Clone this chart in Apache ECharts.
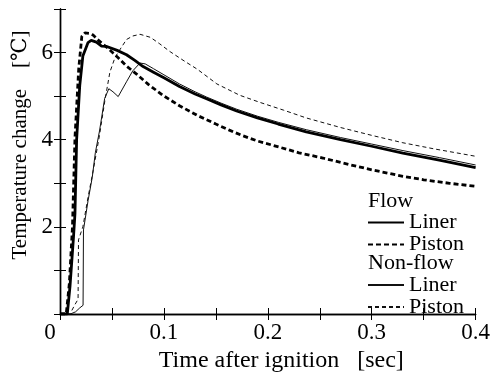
<!DOCTYPE html>
<html>
<head>
<meta charset="utf-8">
<script src="https://cdn.jsdelivr.net/npm/echarts@6/dist/echarts.min.js"></script>
<style>
  html, body { margin: 0; padding: 0; background: #fff; }
  #chart { width: 493px; height: 378px; }
</style>
</head>
<body>
<div id="chart"></div>
<script>
// values
const flowLinerTime = [0, 0.007, 0.0096, 0.013, 0.0144, 0.016, 0.019, 0.022, 0.027, 0.03, 0.035, 0.04, 0.045, 0.055, 0.064, 0.072, 0.08, 0.09, 0.1, 0.115, 0.13, 0.141, 0.155, 0.17, 0.19, 0.21, 0.237, 0.27, 0.3, 0.33, 0.365, 0.4]
const flowLinerTemp = [0, 0, 0.63, 1.77, 2.3, 4.0, 5.24, 5.92, 6.23, 6.28, 6.24, 6.15, 6.14, 6.05, 5.95, 5.82, 5.68, 5.55, 5.42, 5.22, 5.05, 4.94, 4.8, 4.66, 4.5, 4.36, 4.18, 4.0, 3.85, 3.69, 3.53, 3.36]

const flowPistonTime = [0, 0.006, 0.009, 0.012, 0.0144, 0.018, 0.021, 0.024, 0.028, 0.032, 0.036, 0.042, 0.048, 0.056, 0.064, 0.074, 0.085, 0.099, 0.115, 0.132, 0.15, 0.163, 0.175, 0.19, 0.205, 0.23, 0.253, 0.28, 0.3, 0.33, 0.35, 0.375, 0.4]
const flowPistonTemp = [0, 0, 0.7, 2.0, 4.04, 5.62, 6.37, 6.45, 6.44, 6.4, 6.3, 6.18, 6.06, 5.88, 5.69, 5.5, 5.27, 5.02, 4.78, 4.56, 4.36, 4.22, 4.1, 3.97, 3.87, 3.7, 3.58, 3.42, 3.31, 3.16, 3.08, 3.0, 2.93]

const nonFlowLinerTime = [0, 0.01, 0.015, 0.019, 0.0222, 0.0226, 0.027, 0.031, 0.034, 0.038, 0.043, 0.047, 0.051, 0.056, 0.064, 0.07, 0.077, 0.082, 0.09, 0.1, 0.115, 0.13, 0.141, 0.155, 0.17, 0.19, 0.21, 0.237, 0.27, 0.3, 0.33, 0.365, 0.4]
const nonFlowLinerTemp = [0, 0, 0.05, 0.14, 0.2, 1.93, 2.6, 3.13, 3.7, 4.2, 4.95, 5.17, 5.1, 4.99, 5.33, 5.58, 5.76, 5.74, 5.63, 5.49, 5.28, 5.1, 4.98, 4.84, 4.7, 4.54, 4.4, 4.23, 4.05, 3.9, 3.75, 3.59, 3.42]

const nonFlowPistonTime = [0, 0.0096, 0.014, 0.0174, 0.0178, 0.022, 0.027, 0.032, 0.038, 0.043, 0.048, 0.053, 0.058, 0.064, 0.07, 0.077, 0.087, 0.096, 0.106, 0.12, 0.132, 0.151, 0.173, 0.192, 0.215, 0.237, 0.27, 0.3, 0.33, 0.36, 0.4]
const nonFlowPistonTemp = [0, 0, 0.2, 0.34, 1.7, 2.0, 2.68, 3.3, 4.1, 4.87, 5.55, 5.89, 6.08, 6.3, 6.38, 6.42, 6.35, 6.2, 6.02, 5.8, 5.62, 5.28, 5.02, 4.86, 4.68, 4.5, 4.28, 4.1, 3.93, 3.79, 3.62]

const xTicks = [0, 0.1, 0.2, 0.3, 0.4]
const yTicks = [2, 4, 6]

const serif = '"Liberation Serif", "Times New Roman", "DejaVu Serif", serif'

function pairs(t, v) {
  return t.map((x, i) => [x, v[i]])
}

function xLabel(value) {
  const hit = xTicks.find(t => Math.abs(t - value) < 1e-6)
  if (hit === undefined) return ''
  // the "0" sits a little left of the corner in the original
  return hit === 0 ? '{z|0}' : String(hit)
}

function yLabel(value) {
  const r = Math.round(value)
  return Math.abs(value - r) < 1e-6 && yTicks.indexOf(r) >= 0 ? String(r) : ''
}

const axisLine = { show: true, lineStyle: { color: '#000', width: 1.4 } }
const axisTick = { show: true, inside: true, length: 6, lineStyle: { color: '#000', width: 1 } }
const legendText = { color: '#000', fontFamily: serif, fontSize: 22, lineHeight: 20.7 }

const chart = echarts.init(document.getElementById('chart'), null, { renderer: 'canvas' })

const option = {
  animation: false,
  backgroundColor: '#fff',
  textStyle: { fontFamily: serif, color: '#000' },
  grid: { left: 60, right: 16, top: 9, bottom: 59, containLabel: false },
  xAxis: [
    {
      type: 'value',
      min: 0,
      max: 0.4,
      interval: 0.05,
      position: 'bottom',
      axisLine: axisLine,
      axisTick: axisTick,
      splitLine: { show: false },
      axisLabel: {
        formatter: xLabel,
        color: '#000',
        fontFamily: serif,
        fontSize: 23,
        margin: 7,
        rich: { z: { fontFamily: serif, fontSize: 23, color: '#000', padding: [0, 20, 0, 0] } }
      },
      name: 'Time after ignition   [sec]',
      nameLocation: 'middle',
      nameGap: 35,
      nameTextStyle: { color: '#000', fontFamily: serif, fontSize: 24, padding: [0, 0, 0, 27] }
    },
    {
      type: 'value',
      min: 0,
      max: 0.4,
      interval: 0.05,
      position: 'top',
      axisLine: axisLine,
      axisTick: axisTick,
      splitLine: { show: false },
      axisLabel: { show: false }
    }
  ],
  yAxis: [
    {
      type: 'value',
      min: 0,
      max: 7,
      interval: 1,
      position: 'left',
      axisLine: axisLine,
      axisTick: axisTick,
      splitLine: { show: false },
      axisLabel: { formatter: yLabel, color: '#000', fontFamily: serif, fontSize: 23, margin: 7 },
      name: 'Temperature change    [℃]',
      nameLocation: 'middle',
      nameGap: 26,
      nameTextStyle: { color: '#000', fontFamily: serif, fontSize: 21, padding: [0, 0, 0, 33] }
    },
    {
      type: 'value',
      min: 0,
      max: 7,
      interval: 1,
      position: 'right',
      axisLine: axisLine,
      axisTick: axisTick,
      splitLine: { show: false },
      axisLabel: { show: false }
    }
  ],
  legend: [
    {
      data: ['Flow Liner', 'Flow Piston'],
      orient: 'vertical',
      left: 367,
      top: 211.6,
      padding: 0,
      itemWidth: 36,
      itemHeight: 12,
      itemGap: 0,
      itemStyle: { color: 'rgba(0,0,0,0)', borderWidth: 0 },
      formatter: name => name.replace('Flow ', ''),
      textStyle: legendText
    },
    {
      data: ['Non-flow Liner', 'Non-flow Piston'],
      orient: 'vertical',
      left: 367,
      top: 274,
      padding: 0,
      itemWidth: 36,
      itemHeight: 12,
      itemGap: 0,
      itemStyle: { color: 'rgba(0,0,0,0)', borderWidth: 0 },
      formatter: name => name.replace('Non-flow ', ''),
      textStyle: legendText
    }
  ],
  graphic: [
    { type: 'text', x: 368, y: 201.5, style: { text: 'Flow', fill: '#000', font: '22px ' + serif, verticalAlign: 'middle' } },
    { type: 'text', x: 368, y: 263.5, style: { text: 'Non-flow', fill: '#000', font: '22px ' + serif, verticalAlign: 'middle' } }
  ],
  series: [
    {
      name: 'Non-flow Piston',
      type: 'line',
      data: pairs(nonFlowPistonTime, nonFlowPistonTemp),
      symbol: 'none',
      lineStyle: { color: '#111', width: 1, type: [4, 3] },
      itemStyle: { color: '#111' }
    },
    {
      name: 'Non-flow Liner',
      type: 'line',
      data: pairs(nonFlowLinerTime, nonFlowLinerTemp),
      symbol: 'none',
      lineStyle: { color: '#111', width: 1 },
      itemStyle: { color: '#111' }
    },
    {
      name: 'Flow Piston',
      type: 'line',
      data: pairs(flowPistonTime, flowPistonTemp),
      symbol: 'none',
      lineStyle: { color: '#000', width: 2.8, type: [5, 3] },
      itemStyle: { color: '#000' }
    },
    {
      name: 'Flow Liner',
      type: 'line',
      data: pairs(flowLinerTime, flowLinerTemp),
      symbol: 'none',
      lineStyle: { color: '#000', width: 2.8 },
      itemStyle: { color: '#000' }
    }
  ]
}

chart.setOption(option)
</script>
</body>
</html>
